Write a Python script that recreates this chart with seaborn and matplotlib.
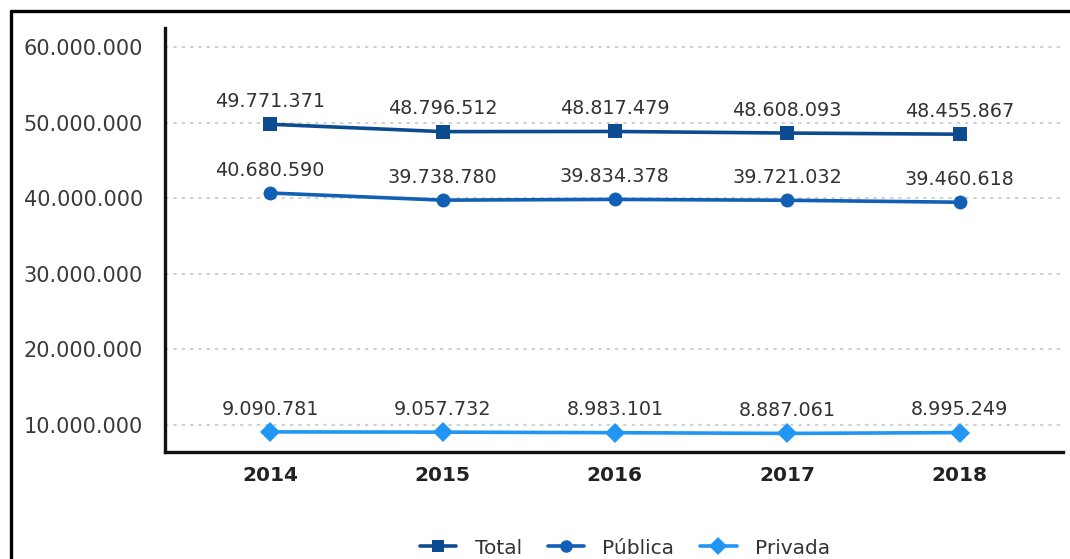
import matplotlib
matplotlib.use("Agg")
import matplotlib.pyplot as plt
import matplotlib.ticker as mticker
from matplotlib.lines import Line2D
import seaborn as sns
import pandas as pd

years = [2014, 2015, 2016, 2017, 2018]
total = [49771371, 48796512, 48817479, 48608093, 48455867]
publica = [40680590, 39738780, 39834378, 39721032, 39460618]
privada = [9090781, 9057732, 8983101, 8887061, 8995249]
series_names = ["Total", "Pública", "Privada"]
y_ticks = [10000000, 20000000, 30000000, 40000000, 50000000, 60000000]

colors = {"Total": "#0d4b91", "Pública": "#1160b5", "Privada": "#2196f3"}
markers = {"Total": "s", "Pública": "o", "Privada": "D"}

df = pd.DataFrame({
    "Ano": years * 3,
    "Valor": total + publica + privada,
    "Série": [s for s in series_names for _ in years],
})

sns.set_theme(style="white")
plt.rcParams["font.family"] = ["DejaVu Sans"]

fig = plt.figure(figsize=(10.70, 5.59), dpi=100)
ax = fig.add_axes([165 / 1070, 1 - 452 / 559, (1063 - 165) / 1070, (452 - 28) / 559])

sns.lineplot(data=df, x="Ano", y="Valor", hue="Série", style="Série",
             palette=colors, markers=markers, dashes=False, linewidth=2.6,
             markersize=10, markeredgewidth=0, ax=ax, legend=False, zorder=3)

ax.set_xlim(2013.39, 2018.6)
ax.set_ylim(6.43e6, 62.5e6)
ax.set_yticks(y_ticks)
ax.set_xticks(years)
ax.yaxis.set_major_formatter(mticker.FuncFormatter(lambda v, p: f"{int(v):,}".replace(",", ".")))
ax.xaxis.set_major_formatter(mticker.FuncFormatter(lambda v, p: f"{int(v)}"))
ax.set_xlabel("")
ax.set_ylabel("")

ax.grid(axis="y", color="#c8c8c8", linestyle=(0, (2, 3)), linewidth=1.2)
ax.grid(axis="x", visible=False)
ax.set_axisbelow(True)

for side in ["top", "right"]:
    ax.spines[side].set_visible(False)
for side in ["left", "bottom"]:
    ax.spines[side].set_color("#111111")
    ax.spines[side].set_linewidth(2.4)

ax.tick_params(axis="y", length=0, pad=16, labelsize=15, labelcolor="#3a3a3a")
ax.tick_params(axis="x", length=6, width=1, color="#cccccc", pad=4, labelsize=14.5, labelcolor="#222222")
for lbl in ax.get_xticklabels():
    lbl.set_fontweight("bold")

for vals in (total, publica, privada):
    for x, v in zip(years, vals):
        ax.annotate(f"{v:,}".replace(",", "."), (x, v), xytext=(0, 9.5), textcoords="offset points",
                    ha="center", va="bottom", fontsize=13.8, color="#333333")

handles = [Line2D([0], [0], color=colors[s], marker=markers[s], linewidth=2.6,
                  markersize=9, markeredgewidth=0) for s in series_names]
fig.legend(handles, series_names, loc="center", bbox_to_anchor=(625 / 1070, 1 - 548 / 559),
           ncol=3, frameon=False, fontsize=14.5, handlelength=1.8, columnspacing=1.3,
           handletextpad=0.9, labelcolor="#333333")

# outer frame (top and left edges visible)
fig.add_artist(Line2D([11 / 1070, 1.0], [1 - 11 / 559, 1 - 11 / 559], transform=fig.transFigure,
                      color="black", linewidth=2.4))
fig.add_artist(Line2D([11 / 1070, 11 / 1070], [0.0, 1 - 11 / 559], transform=fig.transFigure,
                      color="black", linewidth=2.4))

fig.savefig("out.png", dpi=100, facecolor="white")
